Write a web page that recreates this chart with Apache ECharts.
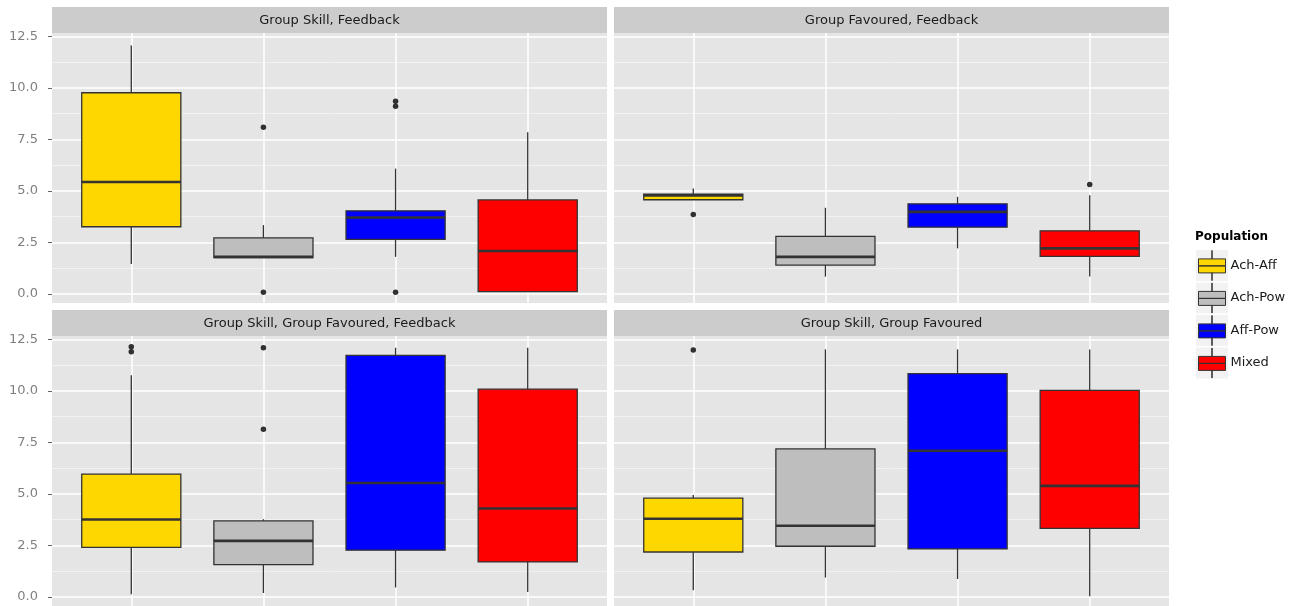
<!DOCTYPE html>
<html>
<head>
<meta charset="utf-8">
<title>Population scores by condition</title>
<script src="https://cdn.jsdelivr.net/npm/echarts@6/dist/echarts.min.js"></script>
<style>
  html, body { margin: 0; padding: 0; background: #ffffff; }
  #chart { width: 1299px; height: 606px; }
</style>
</head>
<body>
<div id="chart"></div>
<script>
// Facet titles, one per panel (left-to-right, top-to-bottom)
const panelTitles = [
  'Group Skill, Feedback',
  'Group Favoured, Feedback',
  'Group Skill, Group Favoured, Feedback',
  'Group Skill, Group Favoured'
];

const populations = ['Ach-Aff', 'Ach-Pow', 'Aff-Pow', 'Mixed'];
const populationColors = ['#FFD700', '#BEBEBE', '#0000FF', '#FF0000'];

// Box summaries per population: [lower whisker, Q1, median, Q3, upper whisker]
const skillFeedback = [
  [1.45, 3.26, 5.43, 9.76, 12.05],
  [1.76, 1.76, 1.80, 2.72, 3.34],
  [1.80, 2.65, 3.71, 4.03, 6.08],
  [0.11, 0.11, 2.08, 4.56, 7.85]
];
const favouredFeedback = [
  [4.57, 4.57, 4.78, 4.84, 5.12],
  [0.84, 1.40, 1.80, 2.79, 4.18],
  [2.21, 3.24, 3.98, 4.37, 4.71],
  [0.84, 1.82, 2.21, 3.06, 4.79]
];
const skillFavouredFeedback = [
  [0.13, 2.40, 3.76, 5.96, 10.76],
  [0.19, 1.57, 2.72, 3.69, 3.77],
  [0.46, 2.27, 5.53, 11.72, 12.09],
  [0.24, 1.70, 4.29, 10.08, 12.09]
];
const skillFavoured = [
  [0.33, 2.18, 3.79, 4.79, 4.94],
  [0.94, 2.46, 3.45, 7.18, 12.01],
  [0.87, 2.33, 7.09, 10.83, 12.01],
  [0.03, 3.33, 5.39, 10.02, 12.01]
];

// Outlying observations per population
const skillFeedbackOutliers = [[], [8.09, 0.08], [9.35, 9.10, 0.08], []];
const favouredFeedbackOutliers = [[3.85], [], [], [5.31]];
const skillFavouredFeedbackOutliers = [[12.14, 11.89], [12.09, 8.13], [], []];
const skillFavouredOutliers = [[11.98], [], [], []];

// Value axis ticks
const yTicks = [0, 2.5, 5, 7.5, 10, 12.5];
const yMinorTicks = [1.25, 3.75, 6.25, 8.75, 11.25];

const panelStats = [skillFeedback, favouredFeedback, skillFavouredFeedback, skillFavoured];
const panelOutliers = [skillFeedbackOutliers, favouredFeedbackOutliers, skillFavouredFeedbackOutliers, skillFavouredOutliers];

// Layout of the 2x2 facet grid (pixels)
const PANEL_W = 555, PANEL_H = 270, STRIP_H = 26;
const panelLeft = [52, 614, 52, 614];
const panelTop = [33, 33, 336, 336];
const Y_MIN = -0.44, Y_MAX = 12.66;
const X_MIN = 0.4, X_MAX = 4.6;
const BOX_WIDTH = 0.75;
const FONT = '"DejaVu Sans", "Liberation Sans", sans-serif';
const INK = '#333333';

function renderBox(params, api) {
  const x = api.value(0);
  const lo = api.coord([x, api.value(1)]);
  const q1 = api.coord([x, api.value(2)]);
  const med = api.coord([x, api.value(3)]);
  const q3 = api.coord([x, api.value(4)]);
  const hi = api.coord([x, api.value(5)]);
  const halfW = api.size([BOX_WIDTH, 0])[0] / 2;
  const cx = med[0];
  return {
    type: 'group',
    children: [
      { type: 'line', shape: { x1: cx, y1: hi[1], x2: cx, y2: q3[1] }, style: { stroke: INK, lineWidth: 1.3 } },
      { type: 'line', shape: { x1: cx, y1: q1[1], x2: cx, y2: lo[1] }, style: { stroke: INK, lineWidth: 1.3 } },
      { type: 'rect', shape: { x: cx - halfW, y: q3[1], width: 2 * halfW, height: q1[1] - q3[1] },
        style: { fill: api.visual('color'), stroke: INK, lineWidth: 1.3 } },
      { type: 'line', shape: { x1: cx - halfW, y1: med[1], x2: cx + halfW, y2: med[1] },
        style: { stroke: INK, lineWidth: 2.6 } }
    ]
  };
}

const grids = [], xAxes = [], yAxes = [], series = [], graphics = [];

panelTitles.forEach(function (title, p) {
  const leftColumn = p % 2 === 0;
  grids.push({
    left: panelLeft[p], top: panelTop[p], width: PANEL_W, height: PANEL_H,
    show: true, backgroundColor: '#E5E5E5', borderWidth: 0
  });
  xAxes.push({
    type: 'value', gridIndex: p, min: X_MIN, max: X_MAX,
    axisLine: { show: false },
    axisTick: { show: false, customValues: [1, 2, 3, 4] },
    axisLabel: { show: false, customValues: [1, 2, 3, 4] },
    splitLine: { show: true, lineStyle: { color: '#FFFFFF', width: 1.5 } }
  });
  // major ticks, labels and grid lines
  yAxes.push({
    type: 'value', gridIndex: p, min: Y_MIN, max: Y_MAX, position: 'left',
    axisLine: { show: false },
    axisTick: { show: leftColumn, length: 4, customValues: yTicks, lineStyle: { color: '#666666', width: 1 } },
    axisLabel: {
      show: leftColumn, customValues: yTicks, margin: 14,
      color: '#7F7F7F', fontSize: 13, fontFamily: FONT,
      formatter: function (v) { return v.toFixed(1); }
    },
    splitLine: { show: true, lineStyle: { color: '#FFFFFF', width: 1.6 } }
  });
  // minor grid lines
  yAxes.push({
    type: 'value', gridIndex: p, min: Y_MIN, max: Y_MAX, position: 'right',
    axisLine: { show: false },
    axisTick: { show: false, customValues: yMinorTicks },
    axisLabel: { show: false, customValues: yMinorTicks },
    splitLine: { show: true, lineStyle: { color: '#F2F2F2', width: 1 } }
  });

  populations.forEach(function (pop, k) {
    series.push({
      type: 'custom',
      name: pop,
      xAxisIndex: p,
      yAxisIndex: 2 * p,
      itemStyle: { color: populationColors[k] },
      encode: { x: 0, y: [1, 2, 3, 4, 5] },
      renderItem: renderBox,
      data: [[k + 1].concat(panelStats[p][k])],
      z: 3,
      silent: true
    });
  });

  const pts = [];
  panelOutliers[p].forEach(function (vals, k) {
    vals.forEach(function (v) { pts.push([k + 1, v]); });
  });
  series.push({
    type: 'scatter',
    name: 'outliers',
    xAxisIndex: p,
    yAxisIndex: 2 * p,
    data: pts,
    symbol: 'circle',
    symbolSize: 5.5,
    itemStyle: { color: '#000000' },
    z: 5,
    silent: true
  });

  // facet strip
  graphics.push({
    type: 'rect', z: 1,
    shape: { x: panelLeft[p], y: panelTop[p] - STRIP_H, width: PANEL_W, height: STRIP_H },
    style: { fill: '#CCCCCC' }
  });
  graphics.push({
    type: 'text', z: 2,
    style: {
      text: title, x: panelLeft[p] + PANEL_W / 2, y: panelTop[p] - STRIP_H / 2 + 0.5,
      align: 'center', verticalAlign: 'middle',
      fontSize: 13, fontFamily: FONT, fill: '#1A1A1A'
    }
  });
});

// legend keys (icon bounds include a 1px stroke, hence the gap)
const LEGEND_LEFT = 1198, LEGEND_TOP = 250, KEY_W = 27, KEY_H = 30, KEY_GAP = 1.5, KEY_STEP = 32.5;
populations.forEach(function (pop, i) {
  graphics.push({
    type: 'rect', z: 0,
    shape: { x: LEGEND_LEFT - 2, y: LEGEND_TOP + i * KEY_STEP, width: 32, height: KEY_H + 1 },
    style: { fill: '#F2F2F2' }
  });
});

// box glyph used as legend icon: whisker, upper half, lower half, whisker
const boxIcon = 'path://M13.4,0H13.6V8.4H13.4Z M0,8.4H27V15.4H0Z M0,15.4H27V22.4H0Z M13.4,22.4H13.6V30H13.4Z';

const option = {
  animation: false,
  backgroundColor: '#FFFFFF',
  title: {
    text: 'Population',
    left: 1195, top: 231, padding: 0,
    textStyle: { fontSize: 12, fontWeight: 'bold', fontFamily: FONT, color: '#000000' }
  },
  legend: {
    data: populations,
    orient: 'vertical',
    left: LEGEND_LEFT, top: LEGEND_TOP, padding: 0,
    itemWidth: KEY_W, itemHeight: KEY_H, itemGap: KEY_GAP,
    icon: boxIcon,
    selectedMode: false,
    itemStyle: { borderColor: INK, borderWidth: 1 },
    textStyle: { fontSize: 13, fontFamily: FONT, color: '#1A1A1A', padding: [3, 0, 0, 0] }
  },
  grid: grids,
  xAxis: xAxes,
  yAxis: yAxes,
  series: series,
  graphic: { elements: graphics }
};

const chart = echarts.init(document.getElementById('chart'), null, { renderer: 'canvas' });
chart.setOption(option);
</script>
</body>
</html>
